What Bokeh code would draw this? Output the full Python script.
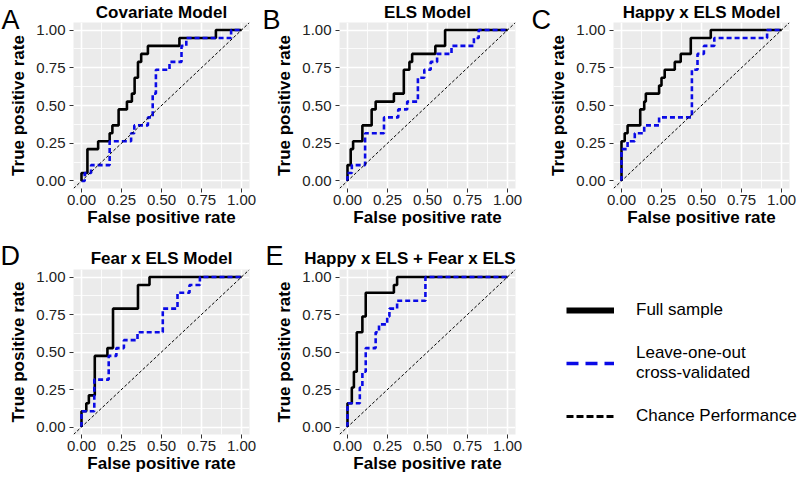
from bokeh.plotting import figure
from bokeh.models import Range1d, FixedTicker, PrintfTickFormatter, Legend, LegendItem, Slope, Title
from bokeh.layouts import row, column
from bokeh.embed import file_html
from bokeh.resources import INLINE

FONT = "Liberation Sans"

# ---------------- data (ROC step vertices: FPR, TPR after each jump) ----------------
a_full_fpr = [0, 0, 0.037, 0.104, 0.176, 0.193, 0.232, 0.284, 0.315, 0.332, 0.353, 0.373, 0.415, 0.612, 0.84, 1.0]
a_full_tpr = [0, 0.053, 0.211, 0.263, 0.316, 0.368, 0.474, 0.526, 0.579, 0.684, 0.789, 0.842, 0.895, 0.947, 1.0, 1.0]
a_loo_fpr = [0, 0.02, 0.06, 0.176, 0.31, 0.33, 0.415, 0.445, 0.465, 0.55, 0.625, 0.655, 0.935, 1.0]
a_loo_tpr = [0, 0.053, 0.105, 0.263, 0.316, 0.368, 0.421, 0.579, 0.737, 0.789, 0.895, 0.947, 1.0, 1.0]

b_full_fpr = [0, 0, 0.02, 0.035, 0.093, 0.151, 0.176, 0.29, 0.352, 0.387, 0.404, 0.549, 0.61, 1.0]
b_full_tpr = [0, 0.105, 0.211, 0.263, 0.368, 0.474, 0.526, 0.579, 0.737, 0.789, 0.842, 0.895, 1.0, 1.0]
b_loo_fpr = [0, 0, 0.027, 0.11, 0.228, 0.317, 0.373, 0.44, 0.48, 0.52, 0.56, 0.65, 0.79, 0.82, 1.0]
b_loo_tpr = [0, 0.053, 0.105, 0.316, 0.421, 0.474, 0.526, 0.684, 0.737, 0.789, 0.842, 0.895, 0.947, 1.0, 1.0]

c_full_fpr = [0, 0, 0.02, 0.038, 0.117, 0.142, 0.152, 0.235, 0.25, 0.27, 0.333, 0.37, 0.433, 0.558, 1.0]
c_full_tpr = [0, 0.263, 0.316, 0.368, 0.474, 0.526, 0.579, 0.632, 0.684, 0.737, 0.789, 0.842, 0.947, 1.0, 1.0]
c_loo_fpr = [0, 0, 0.038, 0.083, 0.142, 0.235, 0.44, 0.475, 0.515, 0.58, 0.91, 1.0]
c_loo_tpr = [0, 0.211, 0.263, 0.316, 0.368, 0.421, 0.737, 0.842, 0.895, 0.947, 1.0, 1.0]

d_full_fpr = [0, 0, 0.03, 0.046, 0.083, 0.162, 0.197, 0.353, 0.425, 1.0]
d_full_tpr = [0, 0.105, 0.158, 0.211, 0.474, 0.526, 0.789, 0.947, 1.0, 1.0]
d_loo_fpr = [0, 0, 0.08, 0.17, 0.218, 0.265, 0.35, 0.508, 0.6, 0.675, 0.74, 1.0]
d_loo_tpr = [0, 0.105, 0.316, 0.474, 0.526, 0.579, 0.632, 0.789, 0.895, 0.947, 1.0, 1.0]

e_full_fpr = [0, 0, 0.027, 0.04, 0.058, 0.093, 0.114, 0.29, 0.31, 1.0]
e_full_tpr = [0, 0.158, 0.263, 0.368, 0.632, 0.737, 0.895, 0.947, 1.0, 1.0]
e_loo_fpr = [0, 0, 0.077, 0.093, 0.114, 0.176, 0.197, 0.248, 0.262, 0.31, 0.487, 1.0]
e_loo_tpr = [0, 0.158, 0.263, 0.368, 0.526, 0.632, 0.684, 0.737, 0.789, 0.842, 1.0, 1.0]

panel_letters = ["A", "B", "C", "D", "E"]
panel_titles = ["Covariate Model", "ELS Model", "Happy x ELS Model", "Fear x ELS Model",
                "Happy x ELS + Fear x ELS"]
major_ticks = [0, 0.25, 0.5, 0.75, 1.0]
minor_ticks = [0.125, 0.375, 0.625, 0.875]
legend_labels = ["Full sample", "Leave-one-out\ncross-validated", "Chance Performance"]

BLUE = "#0A0AE6"
NAN = float("nan")


def make_panel(letter, title, fx, fy, lx, ly, width, height, left, right, top, bottom,
               letter_offset, top_row, title_align="center"):
    p = figure(width=width, height=height, x_range=Range1d(-0.05, 1.05), y_range=Range1d(-0.05, 1.05),
               toolbar_location=None, output_backend="svg",
               min_border_left=left, min_border_right=right, min_border_top=top, min_border_bottom=bottom,
               x_axis_label="False positive rate", y_axis_label="True positive rate")
    p.background_fill_color = "#EBEBEB"
    p.border_fill_color = "white"
    p.outline_line_color = None
    for ax, mls, als in ((p.xaxis[0], 2, 0), (p.yaxis[0], 4, 5)):
        ax.ticker = FixedTicker(ticks=major_ticks, minor_ticks=minor_ticks)
        ax.formatter = PrintfTickFormatter(format="%.2f")
        ax.axis_line_color = None
        ax.major_tick_line_color = "#333333"
        ax.major_tick_in = 0
        ax.major_tick_out = 4
        ax.minor_tick_line_color = None
        ax.major_label_text_font = FONT
        ax.major_label_text_font_size = "15px"
        ax.major_label_text_color = "#222222"
        ax.major_label_standoff = mls
        ax.axis_label_text_font = FONT
        ax.axis_label_text_font_size = "17px"
        ax.axis_label_text_font_style = "bold"
        ax.axis_label_text_color = "black"
        ax.axis_label_standoff = als
    p.grid.grid_line_color = "white"
    p.grid.grid_line_width = 1.6
    p.grid.minor_grid_line_color = "white"
    p.grid.minor_grid_line_width = 0.8

    p.add_layout(Slope(gradient=1, y_intercept=0, line_color="black", line_width=1, line_dash="3 2"))
    p.step(fx, fy, mode="after", line_color="black", line_width=2.6)
    p.step(lx, ly, mode="after", line_color=BLUE, line_width=2.6, line_dash="5 3")

    model_title = Title(text=title, align=title_align, offset=0, text_font=FONT, text_font_size="17px",
                        text_font_style="bold", text_color="black", vertical_align="bottom")
    if top_row:
        letter_title = Title(text=letter, align="left", offset=letter_offset, text_font=FONT,
                             text_font_size="27px", text_font_style="normal", text_color="black",
                             vertical_align="bottom", standoff=-25)
        model_title.standoff = -12
        p.add_layout(letter_title, "above")
        p.add_layout(model_title, "above")
    else:
        letter_title = Title(text="\n" + letter, align="left", offset=letter_offset, text_font=FONT,
                             text_font_size="27px", text_font_style="normal", text_color="black",
                             vertical_align="bottom", standoff=-50)
        model_title.standoff = 3
        p.add_layout(model_title, "above")
        p.add_layout(letter_title, "above")
    return p


H1, H2 = 230, 246
pa = make_panel(panel_letters[0], panel_titles[0], a_full_fpr, a_full_tpr, a_loo_fpr, a_loo_tpr,
                261, H1, 73, 12, 22, 42, -72, True)
pb = make_panel(panel_letters[1], panel_titles[1], b_full_fpr, b_full_tpr, b_loo_fpr, b_loo_tpr,
                266, H1, 78, 12, 22, 42, -77, True)
pc = make_panel(panel_letters[2], panel_titles[2], c_full_fpr, c_full_tpr, c_loo_fpr, c_loo_tpr,
                274, H1, 86, 12, 22, 42, -82, True)
pd = make_panel(panel_letters[3], panel_titles[3], d_full_fpr, d_full_tpr, d_loo_fpr, d_loo_tpr,
                261, H2, 73, 12, 39, 42, -73, False)
pe = make_panel(panel_letters[4], panel_titles[4], e_full_fpr, e_full_tpr, e_loo_fpr, e_loo_tpr,
                266, H2, 78, 12, 39, 42, -74, False, title_align="right")

# legend panel
leg = figure(width=274, height=H2, toolbar_location=None, output_backend="svg",
             x_axis_type=None, y_axis_type=None,
             min_border_left=39, min_border_top=39, min_border_right=0, min_border_bottom=42,
             x_range=Range1d(0, 1), y_range=Range1d(0, 1))
leg.outline_line_color = None
leg.grid.visible = False
r_full = leg.line(x=[NAN], y=[NAN], line_color="black", line_width=6)
r_loo = leg.line(x=[NAN], y=[NAN], line_color=BLUE, line_width=3.5, line_dash="12 7")
r_ch = leg.line(x=[NAN], y=[NAN], line_color="black", line_width=3, line_dash="7 3")
legend = Legend(items=[LegendItem(label=legend_labels[0], renderers=[r_full]),
                       LegendItem(label=legend_labels[1], renderers=[r_loo]),
                       LegendItem(label=legend_labels[2], renderers=[r_ch])],
                location=(0, 8), glyph_width=48, glyph_height=20, label_standoff=22,
                spacing=23, padding=0, margin=0, border_line_color=None, background_fill_alpha=0,
                label_text_font=FONT, label_text_font_size="17px", label_text_color="black",
                label_height=20)
leg.add_layout(legend)

layout = column(row(pa, pb, pc), row(pd, pe, leg))

open("out.html", "w").write(file_html(layout, INLINE))
